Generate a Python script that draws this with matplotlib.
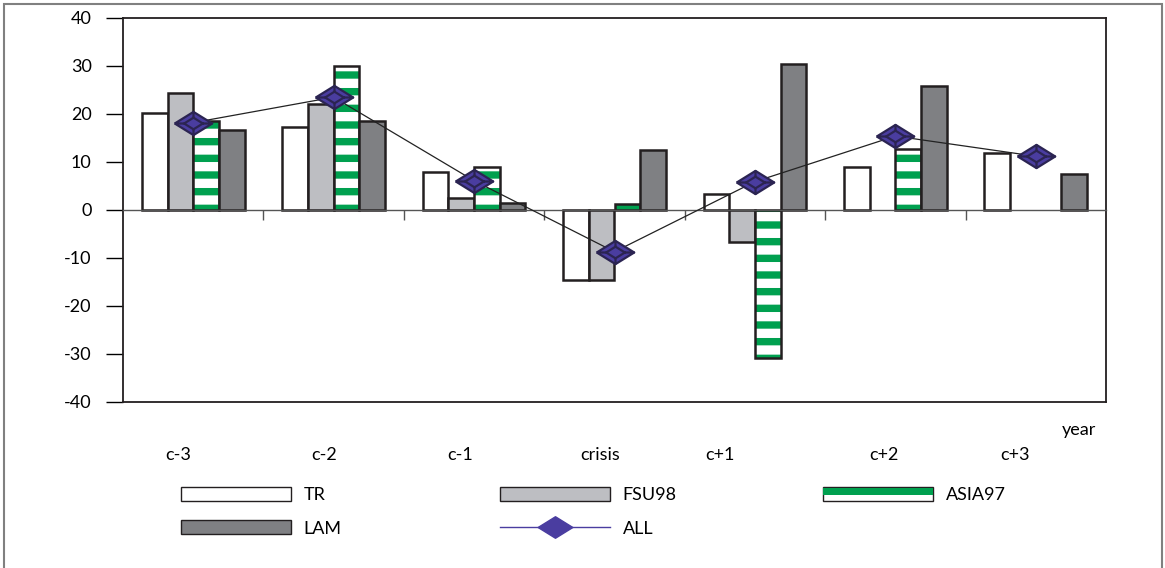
import numpy as np
import matplotlib
matplotlib.use("Agg")
import matplotlib.pyplot as plt
from matplotlib.path import Path
from matplotlib.patches import Rectangle, Patch
from matplotlib.lines import Line2D
from matplotlib.legend_handler import HandlerBase

plt.rcParams["font.family"] = ["Lato", "DejaVu Sans"]
plt.rcParams["axes.unicode_minus"] = False
plt.rcParams["hatch.linewidth"] = 5.3
plt.rcParams["hatch.color"] = "#00a04f"

# data
categories = ["c-3", "c-2", "c-1", "crisis", "c+1", "c+2", "c+3"]
tr = [20.3, 17.2, 8.0, -14.6, 3.3, 9.0, 11.9]
fsu98 = [24.3, 22.1, 2.5, -14.6, -6.6, np.nan, np.nan]
asia97 = [18.5, 30.0, 8.9, 1.2, -30.9, 12.8, np.nan]
lam = [16.6, 18.5, 1.4, 12.5, 30.4, 25.8, 7.4]
all_ = [18.2, 23.5, 6.1, -8.7, 5.9, 15.4, 11.2]
label_shift = [-0.11, -0.07, -0.10, -0.10, -0.25, -0.08, -0.15]

edge = "#231f20"
green = "#00a04f"
light = "#bdbec2"
dark = "#7f8083"
purple = "#4a3da0"

# bevelled diamond marker
d_out = [(-1, 0), (0, -0.62), (1, 0), (0, 0.62), (-1, 0)]
d_in = [(x * 0.5, y * 0.5) for x, y in d_out]
verts = d_out + d_in
codes = [Path.MOVETO] + [Path.LINETO] * 4 + [Path.MOVETO] + [Path.LINETO] * 4
for (a, b) in zip(d_out[:4], d_in[:4]):
    verts += [a, b]
    codes += [Path.MOVETO, Path.LINETO]
bevel = Path(verts, codes)
plain = Path(d_out, [Path.MOVETO] + [Path.LINETO] * 3 + [Path.CLOSEPOLY])


class StripeHandler(HandlerBase):
    # white box with a green band on its upper half
    def create_artists(self, legend, orig_handle, xdescent, ydescent,
                       width, height, fontsize, trans):
        box = Rectangle((-xdescent, -ydescent), width, height, facecolor="white",
                        edgecolor=edge, lw=1, transform=trans)
        band = Rectangle((-xdescent, -ydescent + height * 0.45), width, height * 0.45,
                         facecolor=green, edgecolor="none", transform=trans)
        return [box, band]


fig = plt.figure(figsize=(11.65, 5.68), dpi=100)
ax = fig.add_axes([123 / 1165, 1 - 402 / 568, (1106 - 123) / 1165, (402 - 18) / 568])

x = np.arange(len(categories))
w = 0.183
lw = 1.8
ax.bar(x - 1.5 * w, tr, w, color="white", edgecolor=edge, linewidth=lw, zorder=2)
ax.bar(x - 0.5 * w, fsu98, w, color=light, edgecolor=edge, linewidth=lw, zorder=2)
ax.bar(x + 0.5 * w, asia97, w, color="white", edgecolor=green, linewidth=0, hatch="-", zorder=2)
ax.bar(x + 0.5 * w, asia97, w, fill=False, edgecolor=edge, linewidth=lw, zorder=2)
ax.bar(x + 1.5 * w, lam, w, color=dark, edgecolor=edge, linewidth=lw, zorder=2)

ax.plot(x, all_, color="#222222", lw=0.9, zorder=3)
ax.plot(x, all_, ls="none", marker=bevel, markersize=27, markerfacecolor=purple,
        markeredgecolor="#2b2452", markeredgewidth=1.6, zorder=4)

ax.set_xlim(-0.5, 6.5)
ax.set_ylim(-40, 40)
ax.set_yticks(np.arange(-40, 41, 10))
ax.tick_params(axis="y", direction="out", length=12.5, width=1, labelsize=13, pad=10)

ax.spines["bottom"].set_position(("data", 0))
ax.spines["bottom"].set_color("#555555")
ax.spines["bottom"].set_linewidth(1)
ax.set_xticks(np.arange(0.5, 6, 1))
ax.set_xticklabels([])
ax.tick_params(axis="x", direction="out", length=7.5, width=1, color="#555555")
for s in ["left", "top", "right"]:
    ax.spines[s].set_linewidth(1.3)
    ax.spines[s].set_color(edge)
ax.axhline(-40, color=edge, lw=1.3, clip_on=False)

for xi, cat, sh in zip(x, categories, label_shift):
    ax.text(xi + sh, -51, cat, ha="center", va="center", fontsize=13, clip_on=False)
ax.text(6.31, -45.8, "year", ha="center", va="center", fontsize=13, clip_on=False)

# legend, three columns like the original
common = dict(frameon=False, fontsize=13, handlelength=6.1, handleheight=0.8,
              handletextpad=0.7, labelspacing=0.95, borderpad=0, borderaxespad=0,
              loc="upper left")
h_tr = Patch(facecolor="white", edgecolor=edge, linewidth=1)
h_lam = Patch(facecolor=dark, edgecolor=edge, linewidth=1)
h_fsu = Patch(facecolor=light, edgecolor=edge, linewidth=1)
h_all = Line2D([], [], color=purple, lw=1, marker=plain, markersize=25,
               markerfacecolor=purple, markeredgecolor=purple)
h_asia = Patch(facecolor="white")
top = 1 - 487 / 568
fig.legend([h_tr, h_lam], ["TR", "LAM"], bbox_to_anchor=(181 / 1165, top), **common)
fig.legend([h_fsu, h_all], ["FSU98", "ALL"], bbox_to_anchor=(500 / 1165, top), **common)
fig.legend([h_asia], ["ASIA97"], bbox_to_anchor=(823 / 1165, top),
           handler_map={h_asia: StripeHandler()}, **common)

fig.add_artist(Rectangle((4 / 1165, -0.1), (1162 - 4) / 1165, 1.1 - 4 / 568,
                         transform=fig.transFigure, fill=False, edgecolor="#808080", lw=1.5))

fig.savefig("out.png", dpi=100)
